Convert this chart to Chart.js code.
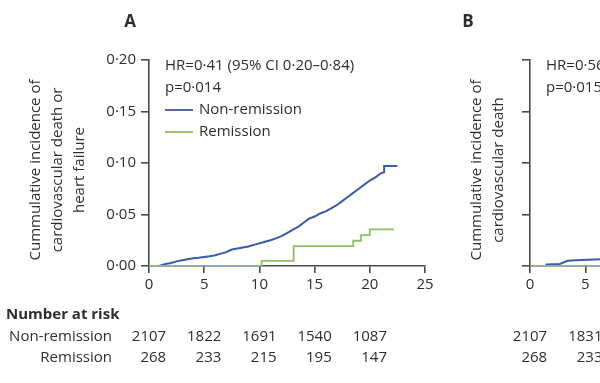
<!DOCTYPE html>
<html><head><meta charset="utf-8">
<script src="https://cdn.jsdelivr.net/npm/chart.js@4"></script>
<style>
html,body{margin:0;padding:0;background:#fff;width:600px;height:383px;overflow:hidden;position:relative}
#a{position:absolute;left:0;top:0}
#b{position:absolute;left:400px;top:0}
</style></head><body>
<canvas id="a" width="600" height="383"></canvas>
<canvas id="b" width="600" height="383"></canvas>
<script>
// ---- shared axis data ----
const yTickValues = [0, 0.05, 0.10, 0.15, 0.20];
const yTickLabels = ['0·00', '0·05', '0·10', '0·15', '0·20'];
const xTickValues = [0, 5, 10, 15, 20, 25];
const atRiskTimes = [0, 5, 10, 15, 20];
const seriesNames = ['Non-remission', 'Remission'];

// ---- Panel A ----
const aNonRemT = [0, 0.9, 1.5, 2, 2.5, 3, 3.5, 4, 4.5, 5, 5.5, 6, 6.5, 7, 7.5, 8, 8.5, 9, 9.5, 10, 10.5, 11, 11.5, 12, 12.5, 13, 13.5, 14, 14.5, 15, 15.5, 16, 16.5, 17, 17.5, 18, 18.5, 19, 19.5, 20, 20.5, 21, 21.3, 21.3, 22.5];
const aNonRemY = [0, 0, 0.002, 0.003, 0.0045, 0.0055, 0.0065, 0.0075, 0.008, 0.0088, 0.0095, 0.0105, 0.012, 0.0135, 0.016, 0.017, 0.018, 0.019, 0.0205, 0.022, 0.0235, 0.025, 0.0268, 0.029, 0.032, 0.035, 0.038, 0.042, 0.046, 0.048, 0.051, 0.053, 0.056, 0.059, 0.063, 0.067, 0.071, 0.075, 0.079, 0.083, 0.086, 0.090, 0.091, 0.097, 0.097];
const aRemT = [0, 10.2, 13.1, 18.5, 19.2, 20.0, 22.2];
const aRemY = [0, 0.005, 0.0192, 0.0245, 0.030, 0.0356, 0.0356];
const aRiskNon = [2107, 1822, 1691, 1540, 1087];
const aRiskRem = [268, 233, 215, 195, 147];
const aTitle = 'A';
const aYTitle = ['Cummulative incidence of', 'cardiovascular death or', 'heart failure'];
const aStats = ['HR=0·41 (95% CI 0·20–0·84)', 'p=0·014'];

// ---- Panel B (only its left edge is in the picture) ----
const bNonRemT = [0, 1.4, 1.5, 2.7, 3.4, 4.6, 6.5];
const bNonRemY = [0, 0, 0.0015, 0.002, 0.005, 0.0058, 0.0065];
const bRemT = [0, 7];
const bRemY = [0, 0];
const bRiskNon = [2107, 1831];
const bRiskRem = [268, 233];
const bTitle = 'B';
const bYTitle = ['Cummulative incidence of', 'cardiovascular death'];
const bStats = ['HR=0·56 (95% CI', 'p=0·015'];

const FONT = '"Open Sans", sans-serif';
const FS = 15;
const TXT = '#2e2e2e';
const AX = '#4a4a4a';
const BLUE = '#3a5ba8';
const GREEN = '#8cc160';

function pts(T, Y) { return T.map((t, i) => ({ x: t, y: Y[i] })); }

function makeChart(id, cfg) {
  const textPlugin = {
    id: 'texts',
    afterDraw(chart) {
      const ctx = chart.ctx;
      const xs = chart.scales.x;
      const L = chart.chartArea.left;
      ctx.save();
      ctx.fillStyle = TXT;
      ctx.textBaseline = 'middle';
      // panel letter
      ctx.font = 'bold 17px ' + FONT;
      ctx.textAlign = 'center';
      ctx.fillText(cfg.title, L + cfg.titleDx, 22);
      // y-axis title
      ctx.font = FS + 'px ' + FONT;
      ctx.save();
      ctx.translate(0, 170);
      ctx.rotate(-Math.PI / 2);
      cfg.yTitle.forEach((s, i) => ctx.fillText(s, 0, L + cfg.yTitleX0 + i * 22));
      ctx.restore();
      // stats
      ctx.textAlign = 'left';
      ctx.fillText(cfg.stats[0], L + 16, 66);
      ctx.fillText(cfg.stats[1], L + 16, 88);
      // legend
      if (cfg.legend) {
        [BLUE, GREEN].forEach((c, i) => {
          const y = 110 + i * 22;
          ctx.strokeStyle = c; ctx.lineWidth = 1.8;
          ctx.beginPath(); ctx.moveTo(L + 16, y); ctx.lineTo(L + 44, y); ctx.stroke();
          ctx.fillText(seriesNames[i], L + 50, y);
        });
      }
      // number at risk
      if (cfg.riskHeader) {
        ctx.font = 'bold ' + FS + 'px ' + FONT;
        ctx.fillText('Number at risk', 6, 315);
        ctx.font = FS + 'px ' + FONT;
        ctx.textAlign = 'right';
        ctx.fillText(seriesNames[0], 112, 337);
        ctx.fillText(seriesNames[1], 112, 358);
      }
      ctx.font = FS + 'px ' + FONT;
      ctx.textAlign = 'right';
      const half = ctx.measureText('0000').width / 2;
      cfg.riskNon.forEach((v, i) => {
        const px = xs.getPixelForValue(atRiskTimes[i]);
        ctx.fillText(String(v), px + half, 337);
        ctx.fillText(String(cfg.riskRem[i]), px + half, 358);
      });
      ctx.restore();
    }
  };
  return new Chart(document.getElementById(id), {
    type: 'line',
    data: {
      datasets: [
        { label: seriesNames[1], data: pts(cfg.remT, cfg.remY), borderColor: GREEN, borderWidth: 1.8, stepped: true, pointRadius: 0, fill: false },
        { label: seriesNames[0], data: pts(cfg.nonT, cfg.nonY), borderColor: BLUE, borderWidth: 2, stepped: false, tension: 0, pointRadius: 0, fill: false }
      ]
    },
    options: {
      responsive: false,
      animation: false,
      events: [],
      layout: { padding: { top: 60, right: cfg.rightPad, left: 0, bottom: 0 } },
      plugins: { legend: { display: false }, tooltip: { enabled: false } },
      scales: {
        x: {
          type: 'linear', min: 0, max: 25,
          afterBuildTicks: s => { s.ticks = xTickValues.map(v => ({ value: v })); },
          afterFit: s => { s.height = 383 - 266; },
          grid: { drawOnChartArea: false, drawTicks: true, tickLength: 7, color: AX, lineWidth: 1.6 },
          border: { display: true, color: AX, width: 1.6 },
          ticks: { color: TXT, font: { family: FONT, size: FS }, padding: 3, maxRotation: 0 }
        },
        y: {
          min: 0, max: 0.2,
          afterBuildTicks: s => { s.ticks = yTickValues.map(v => ({ value: v })); },
          afterFit: s => { s.width = cfg.leftW; },
          grid: { drawOnChartArea: false, drawTicks: true, tickLength: 8, color: AX, lineWidth: 1.6 },
          border: { display: true, color: AX, width: 1.6 },
          ticks: { display: cfg.yLabels, color: TXT, font: { family: FONT, size: FS }, padding: 5,
                   callback: (v, i) => yTickLabels[i] }
        }
      }
    },
    plugins: [textPlugin]
  });
}

makeChart('a', {
  leftW: 149, rightPad: 175, yLabels: true, legend: true, riskHeader: true,
  title: aTitle, titleDx: -19, yTitle: aYTitle, yTitleX0: -113, stats: aStats,
  nonT: aNonRemT, nonY: aNonRemY, remT: aRemT, remY: aRemY,
  riskNon: aRiskNon, riskRem: aRiskRem
});
makeChart('b', {
  leftW: 130, rightPad: 600 - 130 - 276.5, yLabels: false, legend: false, riskHeader: false,
  title: bTitle, titleDx: -62, yTitle: bYTitle, yTitleX0: -53, stats: bStats,
  nonT: bNonRemT, nonY: bNonRemY, remT: bRemT, remY: bRemY,
  riskNon: bRiskNon, riskRem: bRiskRem
});
</script>
</body></html>
